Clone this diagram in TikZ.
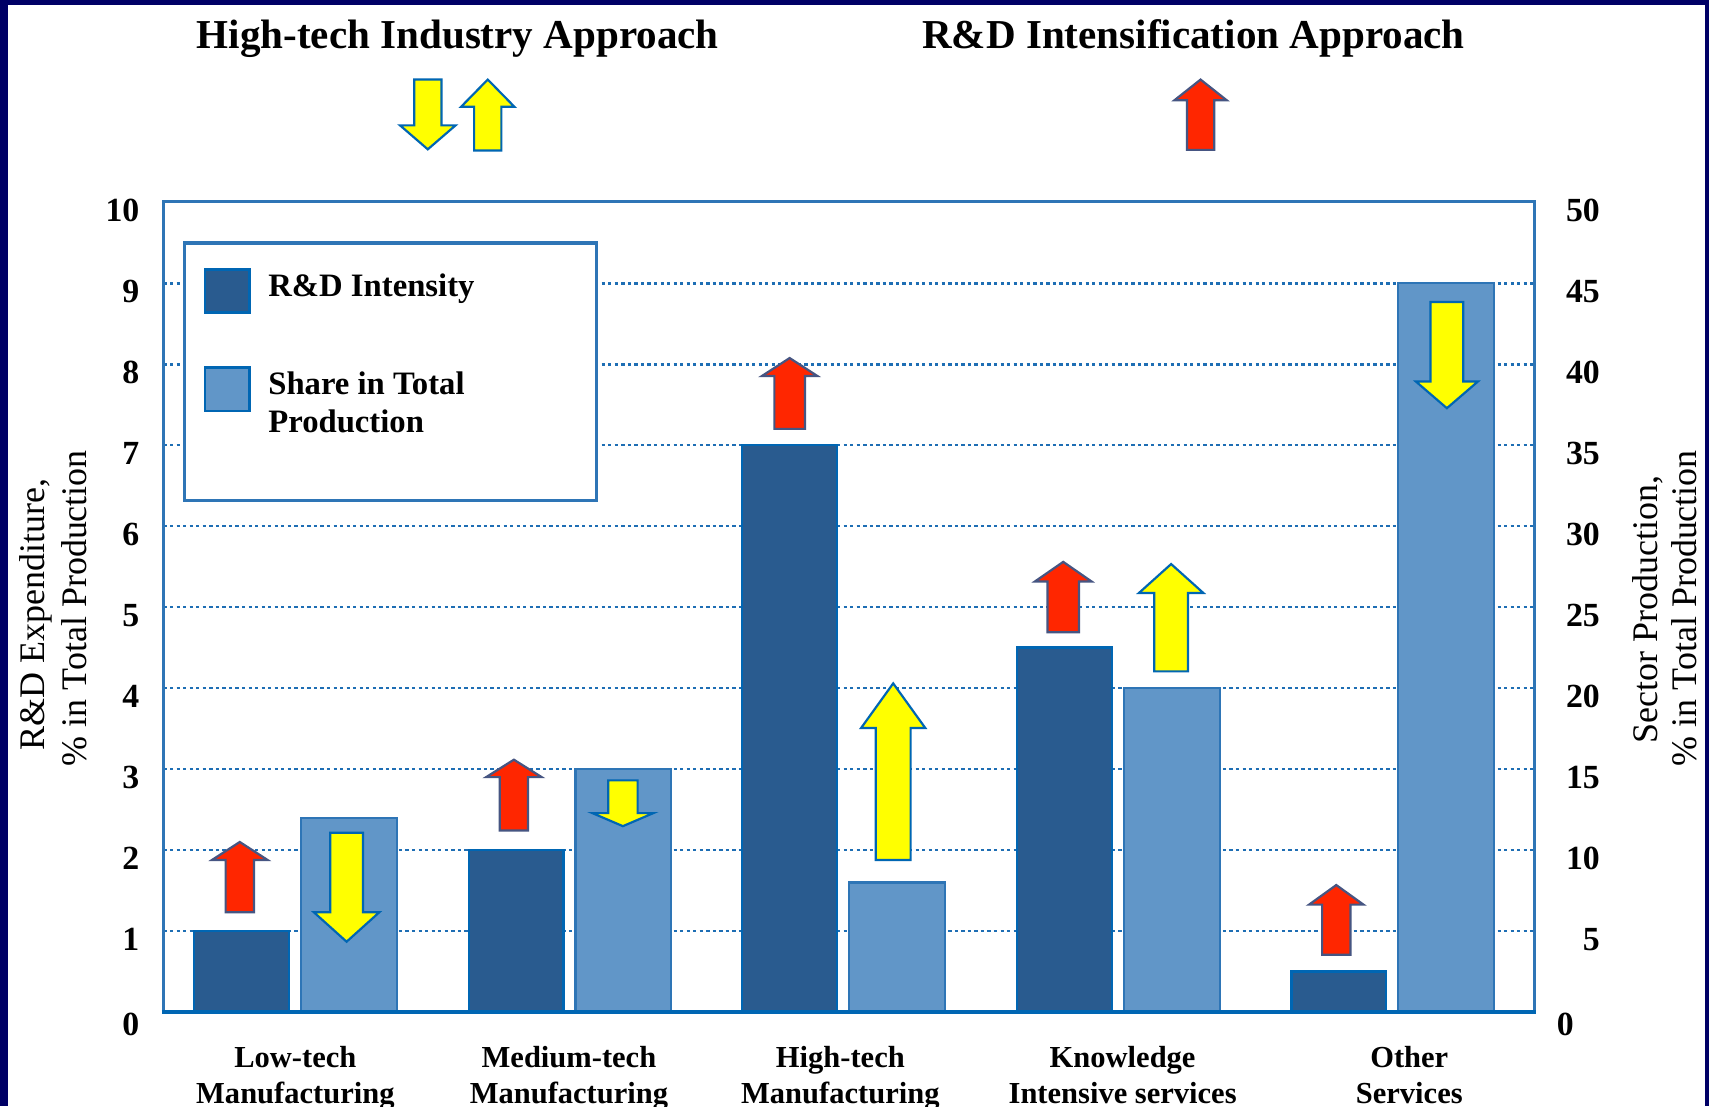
\documentclass[tikz,border=0pt]{standalone}
\usepackage{fontspec}
\setmainfont{Liberation Serif}
\definecolor{navyb}{RGB}{0,0,102}
\definecolor{darkbar}{RGB}{41,91,143}
\definecolor{lightbar}{RGB}{97,150,200}
\definecolor{axisblue}{RGB}{46,117,182}
\definecolor{edgeblue}{RGB}{0,102,179}
\definecolor{gridblue}{RGB}{30,110,180}
\definecolor{arrred}{RGB}{255,38,0}
\definecolor{arryel}{RGB}{255,255,0}
\definecolor{redline}{RGB}{70,85,130}
\tikzset{
 darkbarst/.style={fill=darkbar, draw=edgeblue, line width=2pt},
 lightbarst/.style={fill=lightbar, draw=axisblue, line width=2pt},
 gridst/.style={draw=gridblue, line width=2.5pt, dash pattern=on 3pt off 3pt},
 redarr/.style={fill=arrred, draw=redline, line width=2pt},
 yelarr/.style={fill=arryel, draw=edgeblue, line width=2pt},
 titlest/.style={font=\fontsize{37.7}{40}\selectfont\bfseries, inner sep=0pt, anchor=base},
 tickst/.style={font=\fontsize{31}{33}\selectfont\bfseries, inner sep=0pt, anchor=east},
 axtitlest/.style={font=\fontsize{33}{36}\selectfont, inner sep=0pt, rotate=90},
 catst/.style={font=\fontsize{28}{30}\selectfont\bfseries, inner sep=0pt, anchor=base},
 legst/.style={font=\fontsize{30}{32}\selectfont\bfseries, inner sep=0pt, anchor=base west},
}
% #1 style, #2 x, #3 tail y, #4 head base y, #5 tip y, #6 body width, #7 head width
\newcommand{\blockarrow}[7]{\draw[#1] ({#2-#6/2},#3) -- ({#2-#6/2},#4) -- ({#2-#7/2},#4) -- (#2,#5) -- ({#2+#7/2},#4) -- ({#2+#6/2},#4) -- ({#2+#6/2},#3) -- cycle;}
\begin{document}
\begin{tikzpicture}[x=1pt,y=-1pt]
\useasboundingbox (0,0) rectangle (1568,1015);
\fill[white] (0,0) rectangle (1568,1015);
% frame of the slide
\fill[navyb] (0,0) rectangle (7,1015);
\fill[navyb] (0,0) rectangle (1568,5);
\fill[navyb] (1564,0) rectangle (1568,1015);
% titles
\node[titlest] (t1) at (420,44.5) {High-tech Industry Approach};
\node[titlest] (t2) at (1095,44.5) {R\&D Intensification Approach};
% top arrows
\blockarrow{yelarr}{392.5}{73}{115}{137}{25}{51}
\blockarrow{yelarr}{447.5}{138}{98}{73}{25}{49}
\blockarrow{redarr}{1101.5}{137.5}{92}{73}{25}{48}
% grid lines
\foreach \k in {1,...,9} {
  \draw[gridst] (150,{928.5-74.3*\k}) -- (1408,{928.5-74.3*\k});
}
% bars
\foreach \c/\d/\s in {271/1/12, 523/2/15, 774/7/8, 1026/4.5/20, 1278/0.5/45} {
  \draw[darkbarst] ({\c-93},928.5) rectangle ({\c-6},{928.5-74.3*\d});
  \draw[lightbarst] ({\c+5},928.5) rectangle ({\c+93},{928.5-14.86*\s});
}
% plot frame
\draw[axisblue, line width=3pt] (150,928.5) -- (150,185) -- (1408,185) -- (1408,928.5);
\draw[edgeblue, line width=3pt] (148.5,928.5) -- (1409.5,928.5);
% legend
\draw[fill=white, draw=axisblue, line width=3pt] (169,223) rectangle (547,459);
\draw[darkbarst, line width=2.5pt] (188,247) rectangle (229,287);
\draw[lightbarst, draw=edgeblue, line width=2.5pt] (188,337) rectangle (229,377);
\node[legst] (lg1) at (246,272) {R\&D Intensity};
\node[legst] (lg2) at (246,362) {Share in Total};
\node[legst] (lg3) at (246,397) {Production};
% arrows on the bars
\blockarrow{redarr}{220}{837}{789}{772.5}{26}{51}
\blockarrow{yelarr}{318}{764}{837}{864}{30}{60}
\blockarrow{redarr}{471.5}{762}{713}{697}{26}{51}
\blockarrow{yelarr}{571.5}{716}{746}{758}{27}{56}
\blockarrow{redarr}{724.5}{393.5}{345}{328.5}{28}{51}
\blockarrow{yelarr}{819.5}{789}{668}{627}{32}{59}
\blockarrow{redarr}{975.5}{580}{533.5}{515.5}{29}{52}
\blockarrow{yelarr}{1074.5}{616}{544}{517.5}{31}{59}
\blockarrow{redarr}{1226}{876}{830}{812}{26}{50}
\blockarrow{yelarr}{1327.5}{277}{350}{374.5}{30}{57}
% left tick labels
\foreach \k in {1,...,10} {
  \node[tickst] (ll\k) at (128,{928.5-74.3*\k+8}) {\k};
}
\node[tickst] (ll0) at (128,940) {0};
% right tick labels
\foreach \k/\v in {1/5,2/10,3/15,4/20,5/25,6/30,7/35,8/40,9/45,10/50} {
  \node[tickst] (rl\k) at (1468,{928.5-74.3*\k+8}) {\v};
}
\node[tickst] (rl0) at (1444,940) {0};
% axis titles
\node[axtitlest] (ya1) at (33,564) {R\&D Expenditure,};
\node[axtitlest] (ya2) at (68,558) {\% in Total Production};
\node[axtitlest] (yb1) at (1512,559) {Sector Production,};
\node[axtitlest] (yb2) at (1545,558) {\% in Total Production};
% category labels
\node[catst] (c1a) at (271,979) {Low-tech};
\node[catst] (c1b) at (271,1012) {Manufacturing};
\node[catst] (c2a) at (522,979) {Medium-tech};
\node[catst] (c2b) at (522,1012) {Manufacturing};
\node[catst] (c3a) at (771,979) {High-tech};
\node[catst] (c3b) at (771,1012) {Manufacturing};
\node[catst] (c4a) at (1030,979) {Knowledge};
\node[catst] (c4b) at (1030,1012) {Intensive services};
\node[catst] (c5a) at (1293,979) {Other};
\node[catst] (c5b) at (1293,1012) {Services};
\end{tikzpicture}
\end{document}
